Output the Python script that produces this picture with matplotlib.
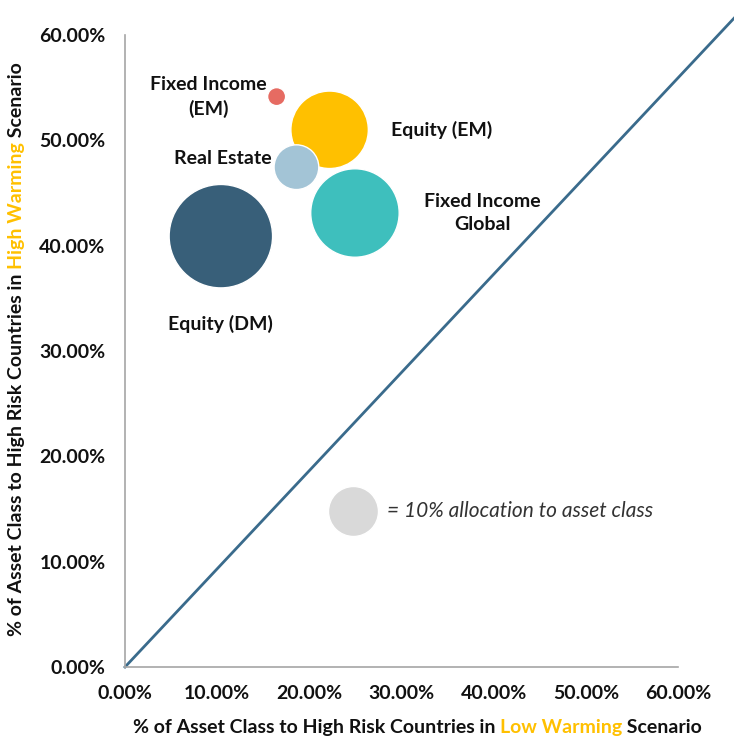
import numpy as np
import matplotlib
matplotlib.use("Agg")
import matplotlib.pyplot as plt
from matplotlib.ticker import FuncFormatter

plt.rcParams['font.family'] = ['Lato', 'DejaVu Sans']

# asset classes: x = low warming share, y = high warming share, size = allocation (%)
names = ["Fixed Income\n(EM)", "Equity (EM)", "Real Estate", "Fixed Income\nGlobal", "Equity (DM)"]
low_warming = [16.45, 22.2, 18.6, 24.95, 10.4]
high_warming = [54.15, 51.0, 47.45, 43.1, 40.9]
allocation = [1.3, 24.0, 8.0, 31.3, 42.8]
colors = ["#E66B62", "#FFC000", "#A3C4D6", "#3EBFBD", "#385F79"]

# label offsets (points) from bubble centre
label_dx = [-49, 81, -53, 92, 0]
label_dy = [0, 0, 6, 0, -63]

# size key bubble
key_x, key_y, key_alloc = [24.7], [14.8], [10.0]
key_text = "= 10% allocation to asset class"

diag_end = [66.3, 61.8]
ticks = [0, 10, 20, 30, 40, 50, 60]

size_scale = 129.6  # points^2 per 1% allocation
fs = 14

fig = plt.figure(figsize=(7.34, 7.40), dpi=100)
ax = fig.add_axes([125 / 734, 1 - 667 / 740, 553 / 734, 632 / 740])

ax.plot([0, diag_end[0]], [0, diag_end[1]], color="#3A6B8C", lw=2, clip_on=False, zorder=1)

ax.scatter(low_warming, high_warming, s=np.array(allocation) * size_scale, c=colors,
           edgecolors="white", linewidths=1, zorder=3, clip_on=False)
ax.scatter(key_x, key_y, s=np.array(key_alloc) * size_scale, c="#D9D9D9",
           edgecolors="white", linewidths=1, zorder=3)

for i, name in enumerate(names):
    ax.annotate(name, (low_warming[i], high_warming[i]), xytext=(label_dx[i], label_dy[i]),
                textcoords="offset points", ha="center", va="center",
                fontsize=fs, fontweight="bold", color="#111111", linespacing=1.45)

ax.annotate(key_text, (key_x[0], key_y[0]), xytext=(24.5, 0), textcoords="offset points",
            ha="left", va="center", fontsize=15, fontstyle="italic", color="#333333")

ax.set_xlim(0, 60)
ax.set_ylim(0, 60)
ax.set_xticks(ticks)
ax.set_yticks(ticks)
fmt = FuncFormatter(lambda v, p: f"{v:.2f}%")
ax.xaxis.set_major_formatter(fmt)
ax.yaxis.set_major_formatter(fmt)
ax.tick_params(length=0, labelsize=fs)
ax.tick_params(axis="x", pad=13)
ax.tick_params(axis="y", pad=14)
for lab in ax.get_xticklabels() + ax.get_yticklabels():
    lab.set_fontweight("bold")
    lab.set_color("#111111")
for s in ["top", "right"]:
    ax.spines[s].set_visible(False)
for s in ["left", "bottom"]:
    ax.spines[s].set_color("#A6A6A6")
    ax.spines[s].set_linewidth(1.2)

# multicolour axis titles
lab_kw = dict(fontsize=fs, fontweight="bold")
t1 = fig.text(133 / 734, 4 / 740, "% of Asset Class to High Risk Countries in ",
              ha="left", va="bottom", color="#111111", **lab_kw)
t2 = ax.annotate("Low Warming", xy=(1, 0), xycoords=t1, ha="left", va="bottom",
                 color="#FFC000", **lab_kw)
ax.annotate(" Scenario", xy=(1, 0), xycoords=t2, ha="left", va="bottom",
            color="#111111", **lab_kw)

y1 = fig.text(8 / 734, 1 - 636 / 740, "% of Asset Class to High Risk Countries in ",
              ha="left", va="bottom", rotation=90, color="#111111", **lab_kw)
y2 = ax.annotate("High Warming", xy=(0, 1), xycoords=y1, ha="left", va="bottom",
                 rotation=90, color="#FFC000", **lab_kw)
ax.annotate(" Scenario", xy=(0, 1), xycoords=y2, ha="left", va="bottom",
            rotation=90, color="#111111", **lab_kw)

fig.savefig("out.png", dpi=100)
